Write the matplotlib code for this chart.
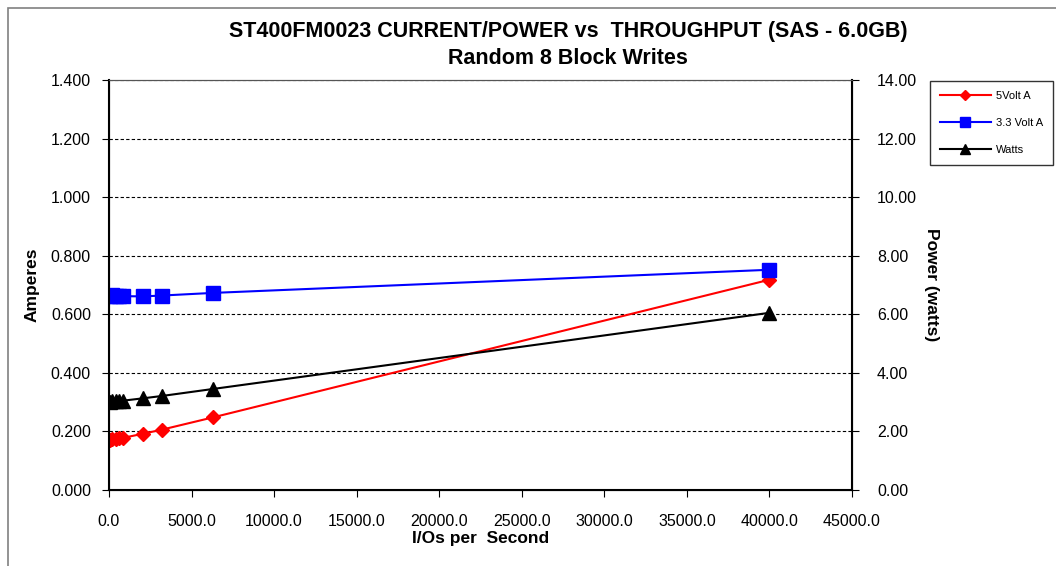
import matplotlib
matplotlib.use("Agg")
import matplotlib.pyplot as plt
from matplotlib.patches import Rectangle

# data
iops = [60, 200, 400, 600, 850, 2050, 3200, 6300, 40000]
amps_5v = [0.172, 0.173, 0.175, 0.177, 0.178, 0.192, 0.206, 0.248, 0.718]
amps_33v = [0.664, 0.665, 0.664, 0.663, 0.662, 0.661, 0.664, 0.673, 0.752]
watts = [3.02, 3.03, 3.03, 3.04, 3.05, 3.13, 3.21, 3.45, 6.05]

plt.rcParams["font.family"] = ["Liberation Sans", "DejaVu Sans"]

fig = plt.figure(figsize=(10.56, 5.66), dpi=100)
# chart frame (top/left visible)
fig.patches.append(Rectangle((8 / 1056, -0.1), 1.2, (566 - 8) / 566 + 0.1,
                             transform=fig.transFigure, fc="white",
                             ec="#808080", lw=1.2, zorder=-1))

ax = fig.add_axes([109 / 1056, 1 - 490 / 566, 743 / 1056, 410 / 566])
ax2 = ax.twinx()

ax.plot(iops, amps_5v, color="#ff0000", marker="D", ms=7.5, lw=1.5,
        label="5Volt A", zorder=3)
ax.plot(iops, amps_33v, color="#0000ff", marker="s", ms=10, lw=1.5,
        label="3.3 Volt A", zorder=3)
ax2.plot(iops, watts, color="black", marker="^", ms=10, lw=1.5,
         label="Watts", zorder=3)

ax.set_xlim(0, 45000)
ax.set_ylim(0, 1.4)
ax2.set_ylim(0, 14)
ax.set_xticks(range(0, 45001, 5000))
ax.set_xticklabels([f"{v:.1f}" for v in range(0, 45001, 5000)])
ax.set_yticks([i * 0.2 for i in range(8)])
ax.set_yticklabels([f"{i * 0.2:.3f}" for i in range(8)])
ax2.set_yticks(range(0, 15, 2))
ax2.set_yticklabels([f"{v:.2f}" for v in range(0, 15, 2)])

ax.yaxis.grid(True, color="black", ls=(0, (3, 2)), lw=0.8)
ax.set_axisbelow(True)

ax.tick_params(axis="x", labelsize=11.5, length=5, pad=12, direction="out")
ax.tick_params(axis="y", labelsize=11.5, length=5, pad=8, direction="out")
ax2.tick_params(axis="y", labelsize=11.5, length=5, pad=13, direction="out")
for s in ("left", "bottom"):
    ax.spines[s].set_linewidth(1.5)
ax2.spines["right"].set_linewidth(1.5)
ax.spines["top"].set_color("#555555")
ax2.spines["top"].set_color("#555555")

ax.set_xlabel("I/Os per  Second", fontsize=12.5, fontweight="bold", labelpad=2)
ax.set_ylabel("Amperes", fontsize=12.5, fontweight="bold", labelpad=8)
ax2.set_ylabel("Power (watts)", fontsize=12.5, fontweight="bold",
               rotation=-90, labelpad=16)

fig.text(568 / 1056, 1 - 32 / 566,
         "ST400FM0023 CURRENT/POWER vs  THROUGHPUT (SAS - 6.0GB)",
         ha="center", va="center", fontsize=15.5, fontweight="bold")
fig.text(568 / 1056, 1 - 58 / 566, "Random 8 Block Writes",
         ha="center", va="center", fontsize=15.5, fontweight="bold")

h1, l1 = ax.get_legend_handles_labels()
h2, l2 = ax2.get_legend_handles_labels()
leg = fig.legend(h1 + h2, l1 + l2, loc="upper left",
                 bbox_to_anchor=(924 / 1056, 1 - 75 / 566), fontsize=8,
                 frameon=True, fancybox=False, edgecolor="black",
                 markerscale=0.65, handlelength=4.6, labelspacing=1.55,
                 borderpad=0.9, handletextpad=0.5)
leg.get_frame().set_linewidth(1.0)

fig.savefig("out.png", dpi=100)
